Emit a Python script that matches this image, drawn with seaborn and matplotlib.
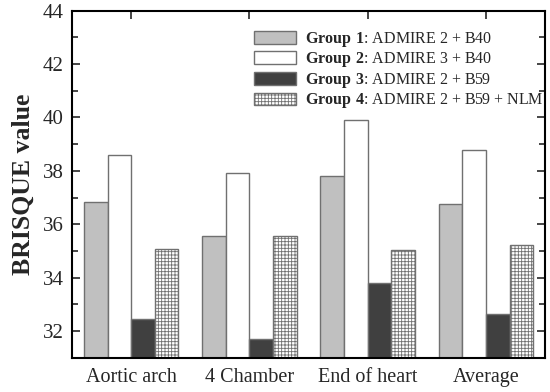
import numpy as np
import pandas as pd
import matplotlib
matplotlib.use("Agg")
import matplotlib.pyplot as plt
import seaborn as sns
from matplotlib.patches import Patch
from matplotlib.ticker import MultipleLocator

regions = ["Aortic arch", "4 Chamber", "End of heart", "Average"]
groups = ["Group 1", "Group 2", "Group 3", "Group 4"]
protocols = ["ADMIRE 2 + B40", "ADMIRE 3 + B40", "ADMIRE 2 + B59", "ADMIRE 2 + B59 + NLM"]
g1 = [36.85, 35.58, 37.80, 36.75]
g2 = [38.58, 37.93, 39.90, 38.80]
g3 = [32.44, 31.72, 33.80, 32.63]
g4 = [35.09, 35.58, 35.02, 35.24]
colors = ["#c0c0c0", "#ffffff", "#404040", "#ffffff"]

df = pd.DataFrame({
    "Region": regions * 4,
    "Group": np.repeat(groups, 4),
    "BRISQUE": g1 + g2 + g3 + g4,
})

sns.set_style("ticks")
plt.rcParams["font.family"] = ["Liberation Serif", "DejaVu Serif"]
plt.rcParams["mathtext.fontset"] = "custom"
plt.rcParams["mathtext.rm"] = "Liberation Serif"
plt.rcParams["mathtext.bf"] = "Liberation Serif:bold"
plt.rcParams["hatch.linewidth"] = 0.6

fig = plt.figure(figsize=(5.5, 3.92), dpi=100)
ax = fig.add_axes([0.131, 0.087, 0.86, 0.886])

sns.barplot(data=df, x="Region", y="BRISQUE", hue="Group", palette=colors,
            edgecolor="#707070", linewidth=1.0, width=0.8, legend=False,
            errorbar=None, saturation=1, ax=ax)

for bar in ax.containers[3]:
    bar.set_hatch("+++++")

ax.set_ylim(31, 44)
ax.set_xlim(-0.5, 3.5)
ax.yaxis.set_major_locator(MultipleLocator(2))
ax.yaxis.set_minor_locator(MultipleLocator(1))
ax.xaxis.set_ticks_position("both")
ax.yaxis.set_ticks_position("both")
ax.set_xlabel("")
ax.set_ylabel("BRISQUE value", fontsize=18.5, fontweight="bold", labelpad=6)
ax.tick_params(axis="both", which="both", direction="in", top=True, right=True,
               labelsize=15, width=1.2)
ax.tick_params(axis="both", which="major", length=6)
ax.tick_params(axis="y", which="minor", length=4)
ax.tick_params(axis="y", pad=6)
ax.tick_params(axis="x", labelsize=14.5, pad=7)
for s in ax.spines.values():
    s.set_linewidth(1.5)
    s.set_color("black")

handles = []
for i in range(4):
    handles.append(Patch(facecolor=colors[i], edgecolor="#707070",
                         hatch="+++++" if i == 3 else None))
labels = [r"$\mathbf{%s}$: %s" % (g.replace(" ", r"\ "), p) for g, p in zip(groups, protocols)]
ax.legend(handles, labels, loc="upper left", bbox_to_anchor=(0.385, 0.945),
          frameon=False, fontsize=11.5, handlelength=2.6, handleheight=0.85,
          labelspacing=0.1, handletextpad=0.6, borderaxespad=0, borderpad=0)

fig.savefig("out.png", dpi=100)
